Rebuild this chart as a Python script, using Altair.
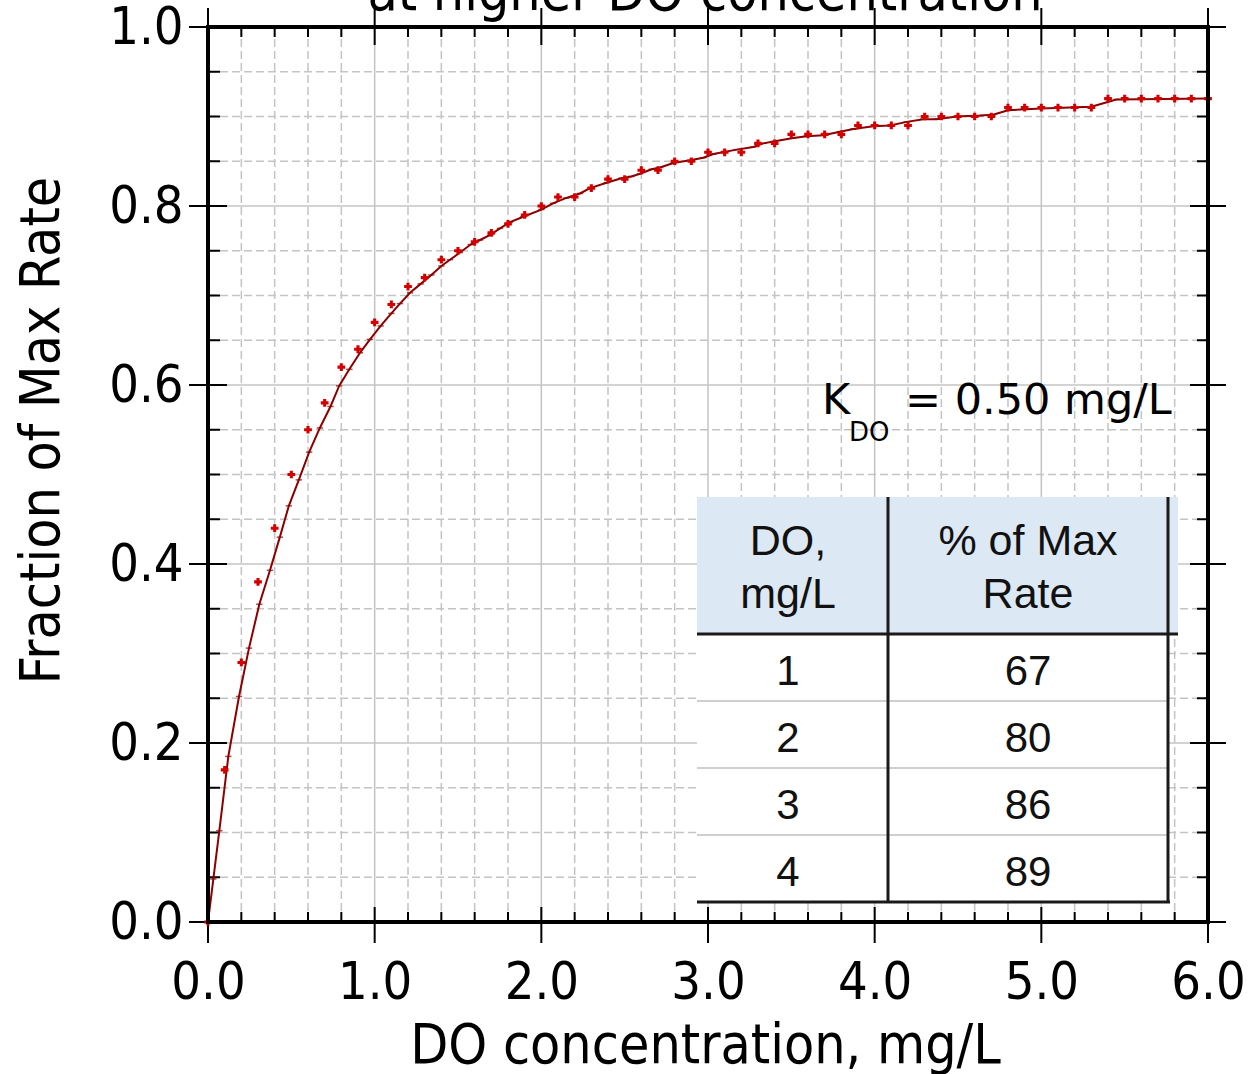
import altair as alt
import pandas as pd

# ---------------- texts ----------------
title_text = "at higher DO concentration"
x_title = "DO concentration, mg/L"
y_title = "Fraction of Max Rate"
k_main = "K"
k_sub = "DO"
k_rest = "= 0.50 mg/L"

# ---------------- data ----------------
do_mgL = [0.0, 0.1, 0.2, 0.3, 0.4, 0.5, 0.6, 0.7, 0.8, 0.9,
          1.0, 1.1, 1.2, 1.3, 1.4, 1.5, 1.6, 1.7, 1.8, 1.9,
          2.0, 2.1, 2.2, 2.3, 2.4, 2.5, 2.6, 2.7, 2.8, 2.9,
          3.0, 3.1, 3.2, 3.3, 3.4, 3.5, 3.6, 3.7, 3.8, 3.9,
          4.0, 4.1, 4.2, 4.3, 4.4, 4.5, 4.6, 4.7, 4.8, 4.9,
          5.0, 5.1, 5.2, 5.3, 5.4, 5.5, 5.6, 5.7, 5.8, 5.9, 6.0]
frac_max = [0.00, 0.17, 0.29, 0.38, 0.44, 0.50, 0.55, 0.58, 0.62, 0.64,
            0.67, 0.69, 0.71, 0.72, 0.74, 0.75, 0.76, 0.77, 0.78, 0.79,
            0.80, 0.81, 0.81, 0.82, 0.83, 0.83, 0.84, 0.84, 0.85, 0.85,
            0.86, 0.86, 0.86, 0.87, 0.87, 0.88, 0.88, 0.88, 0.88, 0.89,
            0.89, 0.89, 0.89, 0.90, 0.90, 0.90, 0.90, 0.90, 0.91, 0.91,
            0.91, 0.91, 0.91, 0.91, 0.92, 0.92, 0.92, 0.92, 0.92, 0.92, 0.92]

curve_x = [0.0, 0.032, 0.068, 0.122, 0.186, 0.246, 0.308, 0.372, 0.431, 0.485,
           0.545, 0.607, 0.671, 0.735, 0.787, 0.848, 0.912, 0.972, 1.036, 1.10,
           1.152, 1.212, 1.276, 1.34, 1.40, 1.452, 1.512, 1.576, 1.632, 1.696,
           1.752, 1.812, 1.892, 2.0, 2.07, 2.15, 2.232, 2.292, 2.392, 2.48,
           2.54, 2.592, 2.662, 2.712, 2.792, 2.892, 2.972, 3.032, 3.172, 3.272,
           3.332, 3.392, 3.512, 3.592, 3.692, 3.792, 3.872, 3.992, 4.092, 4.192,
           4.292, 4.372, 4.492, 4.632, 4.71, 4.80, 5.0, 5.30, 5.45, 6.0]
curve_y = [0.0, 0.048, 0.102, 0.185, 0.252, 0.306, 0.355, 0.393, 0.43, 0.465,
           0.494, 0.525, 0.552, 0.576, 0.599, 0.6175, 0.636, 0.651, 0.666, 0.680,
           0.691, 0.703, 0.713, 0.723, 0.733, 0.740, 0.748, 0.757, 0.762, 0.768,
           0.775, 0.782, 0.788, 0.796, 0.803, 0.809, 0.814, 0.820, 0.826, 0.831,
           0.833, 0.836, 0.841, 0.843, 0.848, 0.851, 0.854, 0.858, 0.863, 0.866,
           0.870, 0.872, 0.876, 0.878, 0.879, 0.883, 0.886, 0.889, 0.890, 0.894,
           0.897, 0.897, 0.900, 0.901, 0.902, 0.907, 0.909, 0.911, 0.919, 0.92]

table_head_do = ["DO,", "mg/L"]
table_head_pct = ["% of Max", "Rate"]
table_do = ["1", "2", "3", "4"]
table_pct = ["67", "80", "86", "89"]

x_major = [0, 1, 2, 3, 4, 5, 6]
x_minor = [0.2, 0.4, 0.6, 0.8, 1.2, 1.4, 1.6, 1.8, 2.2, 2.4, 2.6, 2.8,
           3.2, 3.4, 3.6, 3.8, 4.2, 4.4, 4.6, 4.8, 5.2, 5.4, 5.6, 5.8]
y_major = [0.0, 0.2, 0.4, 0.6, 0.8, 1.0]
y_minor = [0.05, 0.1, 0.15, 0.25, 0.3, 0.35, 0.45, 0.5, 0.55,
           0.65, 0.7, 0.75, 0.85, 0.9, 0.95]

# ---------------- layout / style ----------------
W, H = 1000, 895
PAD_L, PAD_T, PAD_R, PAD_B = 208, 27, 47, 152
AX_FONT = "DejaVu Sans Condensed, Liberation Sans, sans-serif"
K_FONT = "DejaVu Sans, sans-serif"
TB_FONT = "Liberation Sans, Arial, sans-serif"
GRID = "#c4c4c4"

XS = alt.Scale(domain=[0, 6], nice=False, zero=False)
YS = alt.Scale(domain=[0, 1], nice=False, zero=False)

x_axis = alt.Axis(values=x_major, format=".1f", labelFont=AX_FONT, labelFontSize=52,
                  labelColor="black", labelPadding=76, labelBaseline="alphabetic",
                  labelFlush=False, labelOverlap=False, labelBound=False,
                  ticks=False, tickSize=0, domain=False, grid=False,
                  title=x_title, titleFont=AX_FONT, titleFontSize=55, titleFontWeight="normal",
                  titleColor="black", titleX=497, titleY=140, titleBaseline="alphabetic",
                  titleAlign="center", titleAngle=0)
y_axis = alt.Axis(values=y_major, format=".1f", labelFont=AX_FONT, labelFontSize=52,
                  labelColor="black", labelPadding=25, labelBaseline="middle", labelAlign="right",
                  labelFlush=False, labelOverlap=False, labelBound=False,
                  ticks=False, tickSize=0, domain=False, grid=False,
                  title=y_title, titleFont=AX_FONT, titleFontSize=55, titleFontWeight="normal",
                  titleColor="black", titleX=-150, titleY=403, titleBaseline="alphabetic",
                  titleAlign="center", titleAngle=270)


def X(f, **kw):
    return alt.X(f, type="quantitative", scale=XS, axis=x_axis, **kw)


def Y(f, **kw):
    return alt.Y(f, type="quantitative", scale=YS, axis=y_axis, **kw)


def dx(px):  # absolute pixel -> data x
    return (px - PAD_L) / (W / 6.0)


def dy(py):  # absolute pixel -> data y
    return (PAD_T + H - py) / H


xmaj_df = pd.DataFrame({"v": x_major})
xmaj_in = pd.DataFrame({"v": x_major[1:-1]})
xmin_df = pd.DataFrame({"v": x_minor})
ymaj_df = pd.DataFrame({"v": y_major})
ymaj_in = pd.DataFrame({"v": y_major[1:-1]})
ymin_df = pd.DataFrame({"v": y_minor})

layers = []

# base layer carrying both axes
pts_df = pd.DataFrame({"x": do_mgL, "y": frac_max})
layers.append(alt.Chart(pts_df).mark_point(opacity=0).encode(x=X("x"), y=Y("y")))

# grid
layers.append(alt.Chart(xmin_df).mark_rule(color=GRID, strokeWidth=1.5, strokeDash=[8, 4])
              .encode(x=X("v"), y=alt.value(0), y2=alt.value(H)))
layers.append(alt.Chart(ymin_df).mark_rule(color=GRID, strokeWidth=1.5, strokeDash=[8, 4])
              .encode(y=Y("v"), x=alt.value(0), x2=alt.value(W)))
layers.append(alt.Chart(xmaj_in).mark_rule(color=GRID, strokeWidth=1.5)
              .encode(x=X("v"), y=alt.value(0), y2=alt.value(H)))
layers.append(alt.Chart(ymaj_in).mark_rule(color=GRID, strokeWidth=1.5)
              .encode(y=Y("v"), x=alt.value(0), x2=alt.value(W)))

# ticks (inside/outside)
TK = dict(color="black", strokeWidth=2)
layers.append(alt.Chart(ymaj_df).mark_rule(**TK).encode(y=Y("v"), x=alt.value(-19), x2=alt.value(19)))
layers.append(alt.Chart(ymin_df).mark_rule(**TK).encode(y=Y("v"), x=alt.value(0), x2=alt.value(12)))
layers.append(alt.Chart(ymaj_df).mark_rule(**TK).encode(y=Y("v"), x=alt.value(W - 18), x2=alt.value(W + 18)))
layers.append(alt.Chart(ymin_df).mark_rule(**TK).encode(y=Y("v"), x=alt.value(W - 11), x2=alt.value(W)))
layers.append(alt.Chart(xmaj_df).mark_rule(**TK).encode(x=X("v"), y=alt.value(H - 15), y2=alt.value(H + 21)))
layers.append(alt.Chart(xmin_df).mark_rule(**TK).encode(x=X("v"), y=alt.value(H - 10), y2=alt.value(H)))
layers.append(alt.Chart(xmaj_df).mark_rule(**TK).encode(x=X("v"), y=alt.value(-19), y2=alt.value(18)))
layers.append(alt.Chart(xmin_df).mark_rule(**TK).encode(x=X("v"), y=alt.value(0), y2=alt.value(10)))

# curve and points
curve_df = pd.DataFrame({"x": curve_x, "y": curve_y})
layers.append(alt.Chart(curve_df).mark_line(color="#8b0000", strokeWidth=2)
              .encode(x=X("x"), y=Y("y")))
layers.append(alt.Chart(curve_df).mark_point(shape="stroke", size=40, color="#8b0000",
                                               strokeWidth=1.5, filled=False)
              .encode(x=X("x"), y=Y("y")))
layers.append(alt.Chart(pts_df).mark_point(shape="cross", size=60, filled=True, color="#d40000",
                                            opacity=1)
              .encode(x=X("x"), y=Y("y")))

# frame
FR = dict(color="black", strokeWidth=4, strokeCap="square")
one = pd.DataFrame({"k": [0]})
layers.append(alt.Chart(one).mark_rule(**FR).encode(x=alt.value(0), y=alt.value(0), y2=alt.value(H)))
layers.append(alt.Chart(one).mark_rule(**FR).encode(x=alt.value(W), y=alt.value(0), y2=alt.value(H)))
layers.append(alt.Chart(one).mark_rule(**FR).encode(y=alt.value(0), x=alt.value(0), x2=alt.value(W)))
layers.append(alt.Chart(one).mark_rule(**FR).encode(y=alt.value(H), x=alt.value(0), x2=alt.value(W)))

# partially visible title (cut by the top edge)
layers.append(alt.Chart(pd.DataFrame({"t": [title_text]}))
              .mark_text(font=AX_FONT, fontSize=55, color="black", align="center", baseline="alphabetic")
              .encode(text="t:N", x=alt.value(497), y=alt.value(-17)))

# K_DO annotation
layers.append(alt.Chart(pd.DataFrame({"t": [k_main]}))
              .mark_text(font=K_FONT, fontSize=43, color="black", align="left", baseline="alphabetic")
              .encode(text="t:N", x=alt.value(822 - PAD_L), y=alt.value(414 - PAD_T)))
layers.append(alt.Chart(pd.DataFrame({"t": [k_sub]}))
              .mark_text(font=K_FONT, fontSize=26, color="black", align="left", baseline="alphabetic")
              .encode(text="t:N", x=alt.value(849 - PAD_L), y=alt.value(441 - PAD_T)))
layers.append(alt.Chart(pd.DataFrame({"t": [k_rest]}))
              .mark_text(font=K_FONT, fontSize=43, color="black", align="left", baseline="alphabetic")
              .encode(text="t:N", x=alt.value(905 - PAD_L), y=alt.value(414 - PAD_T)))

# ---------------- table ----------------
T_L, T_DIV, T_R, T_HR = 697, 888, 1168, 1178
T_TOP, T_HB, T_BOT = 497, 634, 902
ROW_H = (T_BOT - T_HB) / 4.0

bg_df = pd.DataFrame({
    "x": [dx(T_L), dx(T_L)], "x2": [dx(T_HR), dx(T_R)],
    "y": [dy(T_TOP), dy(T_HB)], "y2": [dy(T_HB), dy(T_BOT)],
    "c": ["#dce8f4", "#ffffff"]})
layers.append(alt.Chart(bg_df).mark_rect(strokeWidth=0)
              .encode(x=X("x"), x2="x2", y=Y("y"), y2="y2",
                      color=alt.Color("c:N", scale=None)))

sep_df = pd.DataFrame({"y": [dy(T_HB + ROW_H * i) for i in range(1, 4)]})
layers.append(alt.Chart(sep_df).mark_rule(color="#cfcfcf", strokeWidth=2)
              .encode(y=Y("y"), x=alt.value(T_L - PAD_L), x2=alt.value(T_R - PAD_L)))

lines_df = pd.DataFrame({
    "x": [dx(T_L), dx(T_L), dx(T_DIV), dx(T_R)],
    "x2": [dx(T_HR), dx(T_R + 2), dx(T_DIV), dx(T_R)],
    "y": [dy(T_HB), dy(T_BOT), dy(T_TOP), dy(T_TOP)],
    "y2": [dy(T_HB), dy(T_BOT), dy(T_BOT), dy(T_BOT)]})
layers.append(alt.Chart(lines_df).mark_rule(color="#1a1a1a", strokeWidth=3)
              .encode(x=X("x"), x2="x2", y=Y("y"), y2="y2"))

head_df = pd.DataFrame({
    "t": table_head_do + table_head_pct,
    "x": [dx(788)] * 2 + [dx(1028)] * 2,
    "y": [dy(555), dy(608), dy(555), dy(608)]})
layers.append(alt.Chart(head_df).mark_text(font=TB_FONT, fontSize=43, color="#111111",
                                            align="center", baseline="alphabetic")
              .encode(text="t:N", x=X("x"), y=Y("y")))

body_df = pd.DataFrame({
    "t": table_do + table_pct,
    "x": [dx(788)] * 4 + [dx(1028)] * 4,
    "y": [dy(T_HB + 51 + ROW_H * i) for i in range(4)] * 2})
layers.append(alt.Chart(body_df).mark_text(font=TB_FONT, fontSize=42, color="#111111",
                                            align="center", baseline="alphabetic")
              .encode(text="t:N", x=X("x"), y=Y("y")))

chart = alt.layer(*layers).properties(
    width=W, height=H,
    padding={"left": PAD_L, "top": PAD_T, "right": PAD_R, "bottom": PAD_B},
    autosize=alt.AutoSizeParams(type="none"),
    background="white",
).configure_view(stroke=None)

chart.save("out.html", embed_options={"renderer": "svg", "actions": False})
